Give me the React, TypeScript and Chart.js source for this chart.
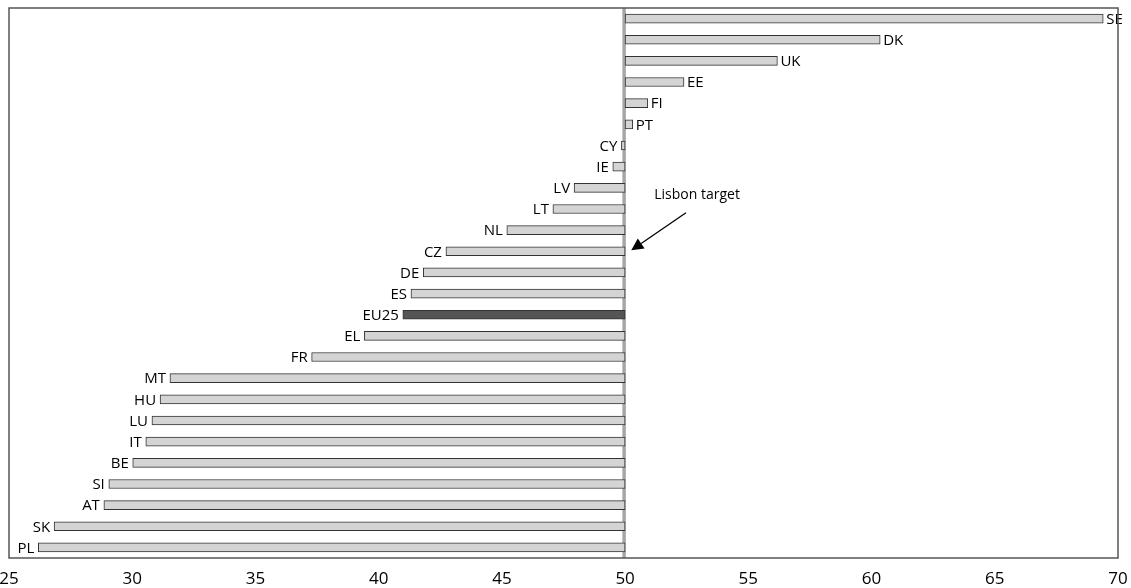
import React, { useEffect, useRef } from "react";
import { Chart, registerables } from "chart.js";

Chart.register(...registerables);

const countries = ["SE", "DK", "UK", "EE", "FI", "PT", "CY", "IE", "LV", "LT", "NL", "CZ", "DE", "ES", "EU25", "EL", "FR", "MT", "HU", "LU", "IT", "BE", "SI", "AT", "SK", "PL"];
const rates = [69.4, 60.35, 56.18, 52.39, 50.92, 50.31, 49.85, 49.5, 47.93, 47.07, 45.2, 42.73, 41.81, 41.31, 40.98, 39.42, 37.28, 31.53, 31.13, 30.8, 30.55, 30.02, 29.05, 28.85, 26.83, 26.19];
const target = 50;
const xMin = 25;
const xMax = 70;
const xStep = 5;
const annotationText = "Lisbon target";

const FONT = "'Open Sans', sans-serif";

const overlayPlugin = {
  id: "overlay",
  beforeDatasetsDraw(chart: any) {
    const { ctx, chartArea, scales } = chart;
    const lx = scales.x.getPixelForValue(target);
    ctx.save();
    ctx.strokeStyle = "#a6a6a6";
    ctx.lineWidth = 3.5;
    ctx.beginPath();
    ctx.moveTo(lx - 1, chartArea.top);
    ctx.lineTo(lx - 1, chartArea.bottom);
    ctx.stroke();
    ctx.restore();
  },
  afterDatasetsDraw(chart: any) {
    const { ctx, chartArea, scales } = chart;
    const meta = chart.getDatasetMeta(0);
    ctx.save();
    ctx.font = `15px ${FONT}`;
    ctx.fillStyle = "#000";
    ctx.textBaseline = "middle";
    meta.data.forEach((bar: any, i: number) => {
      const v = rates[i];
      const px = scales.x.getPixelForValue(v);
      if (v < target) {
        ctx.textAlign = "right";
        ctx.fillText(countries[i], px - 4, bar.y + 1);
      } else {
        ctx.textAlign = "left";
        ctx.fillText(countries[i], px + 3, bar.y + 1);
      }
    });
    // annotation
    const yIdx = (n: string) => meta.data[countries.indexOf(n)].y;
    const tx = scales.x.getPixelForValue(53);
    const ty = yIdx("LV") + 7;
    ctx.font = `14px ${FONT}`;
    ctx.textAlign = "center";
    ctx.fillText(annotationText, tx - 2, ty);
    const tipX = scales.x.getPixelForValue(50.25);
    const tipY = yIdx("CZ") - 1;
    const tailX = scales.x.getPixelForValue(52.47);
    const tailY = ty + 18;
    const ang = Math.atan2(tipY - tailY, tipX - tailX);
    const hl = 12;
    const hw = 6;
    const bx = tipX - hl * Math.cos(ang);
    const by = tipY - hl * Math.sin(ang);
    ctx.strokeStyle = "#000";
    ctx.lineWidth = 1.3;
    ctx.beginPath();
    ctx.moveTo(tailX, tailY);
    ctx.lineTo(bx, by);
    ctx.stroke();
    ctx.beginPath();
    ctx.moveTo(tipX, tipY);
    ctx.lineTo(bx + hw * Math.sin(ang), by - hw * Math.cos(ang));
    ctx.lineTo(bx - hw * Math.sin(ang), by + hw * Math.cos(ang));
    ctx.closePath();
    ctx.fillStyle = "#000";
    ctx.fill();
    // frame
    ctx.strokeStyle = "#555";
    ctx.lineWidth = 1.5;
    ctx.strokeRect(chartArea.left, chartArea.top, chartArea.right - chartArea.left, chartArea.bottom - chartArea.top);
    ctx.restore();
  },
};

export default function App() {
  const ref = useRef<HTMLCanvasElement | null>(null);
  useEffect(() => {
    if (!ref.current) return;
    const chart = new Chart(ref.current, {
      type: "bar",
      data: {
        labels: countries,
        datasets: [
          {
            data: rates.map((v) => [target, v]) as any,
            backgroundColor: countries.map((c) => (c === "EU25" ? "#555555" : "#d4d4d4")),
            borderColor: "#333333",
            borderWidth: 1,
            borderSkipped: false,
            barThickness: 9,
          },
        ],
      },
      options: {
        indexAxis: "y",
        animation: false,
        responsive: true,
        maintainAspectRatio: false,
        layout: { padding: { left: 9, right: 13, top: 8, bottom: 0 } },
        plugins: { legend: { display: false }, tooltip: { enabled: false } },
        scales: {
          x: {
            min: xMin,
            max: xMax,
            grid: { display: false },
            border: { display: false },
            ticks: { stepSize: xStep, color: "#000", font: { family: FONT, size: 17 }, padding: 3, maxRotation: 0 },
            afterFit: (scale: any) => {
              scale.paddingLeft = 0;
              scale.paddingRight = 0;
              scale.height = 30;
            },
          },
          y: { display: false },
        },
      },
      plugins: [overlayPlugin],
    });
    return () => chart.destroy();
  }, []);
  return (
    <div style={{ position: "absolute", left: 0, top: 0, width: 1131, height: 588, background: "#fff" }}>
      <canvas ref={ref} />
    </div>
  );
}
